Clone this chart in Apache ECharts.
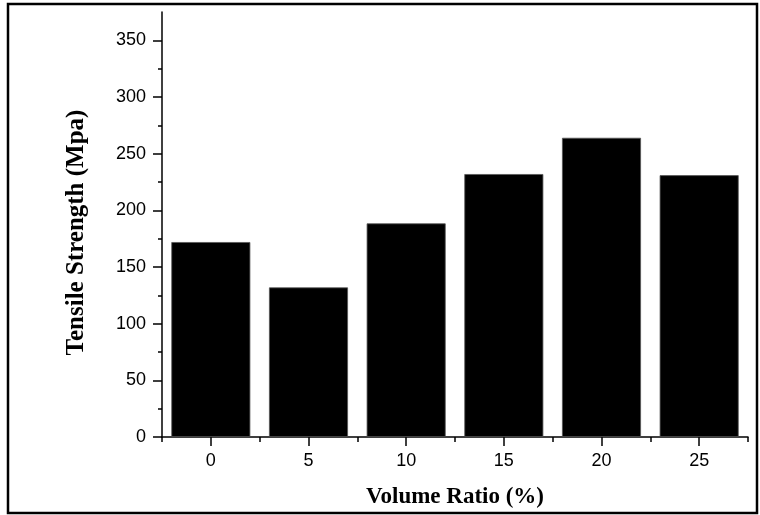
<!DOCTYPE html>
<html>
<head>
<meta charset="utf-8">
<script src="https://cdn.jsdelivr.net/npm/echarts@6/dist/echarts.min.js"></script>
<style>
html,body{margin:0;padding:0;background:#fff;}
#chart{width:760px;height:515px;}
</style>
</head>
<body>
<div id="chart"></div>
<script>
const volumeRatio = [0, 5, 10, 15, 20, 25];
const strength = [172, 132, 188.5, 232, 264, 231];
const xTickLabels = [0, 5, 10, 15, 20, 25];
const yTickLabels = [0, 50, 100, 150, 200, 250, 300, 350];
const xTitle = 'Volume Ratio (%)';
const yTitle = 'Tensile Strength (Mpa)';

const chart = echarts.init(document.getElementById('chart'), null, {renderer: 'canvas'});
const axisColor = '#000';
const labelFont = {fontFamily: 'Liberation Sans, Arial, sans-serif', fontSize: 18, color: '#000'};
const titleFont = {fontFamily: 'Liberation Serif, Times New Roman, serif', fontWeight: 'bold', color: '#000'};

chart.setOption({
  animation: false,
  backgroundColor: '#fff',
  grid: {left: 162, top: 12, right: 12, bottom: 78, containLabel: false, outerBoundsMode: 'none'},
  graphic: [{
    type: 'rect',
    shape: {x: 8, y: 4, width: 749, height: 509},
    style: {fill: 'none', stroke: '#000', lineWidth: 2.5},
    silent: true
  }],
  xAxis: {
    type: 'value',
    min: -2.5,
    max: 27.5,
    interval: 5,
    axisLine: {show: true, onZero: false, lineStyle: {color: axisColor, width: 1.5}},
    axisTick: {show: true, length: 5, lineStyle: {color: axisColor, width: 1.5}},
    minorTick: {show: true, splitNumber: 2, length: 9, lineStyle: {color: axisColor, width: 1.5}},
    axisLabel: Object.assign({
      margin: 15,
      customValues: xTickLabels,
      formatter: function (v) { return String(v); }
    }, labelFont),
    splitLine: {show: false},
    minorSplitLine: {show: false},
    name: xTitle,
    nameLocation: 'middle',
    nameGap: 49,
    nameTextStyle: Object.assign({fontSize: 23}, titleFont)
  },
  yAxis: {
    type: 'value',
    min: 0,
    max: 375,
    interval: 50,
    axisLine: {show: true, onZero: false, lineStyle: {color: axisColor, width: 1.5}},
    axisTick: {show: true, length: 9, customValues: yTickLabels, lineStyle: {color: axisColor, width: 1.5}},
    minorTick: {show: true, splitNumber: 2, length: 4, lineStyle: {color: axisColor, width: 1.5}},
    axisLabel: Object.assign({
      margin: 16,
      customValues: yTickLabels
    }, labelFont),
    splitLine: {show: false},
    minorSplitLine: {show: false},
    name: yTitle,
    nameLocation: 'middle',
    nameRotate: 90,
    nameGap: 73,
    nameTextStyle: Object.assign({fontSize: 25, padding: [0, 16, 0, 0]}, titleFont)
  },
  series: [{
    type: 'bar',
    data: volumeRatio.map(function (x, i) { return [x, strength[i]]; }),
    barWidth: 79,
    itemStyle: {color: '#000', borderColor: '#555', borderWidth: 0.8}
  }]
});
</script>
</body>
</html>
